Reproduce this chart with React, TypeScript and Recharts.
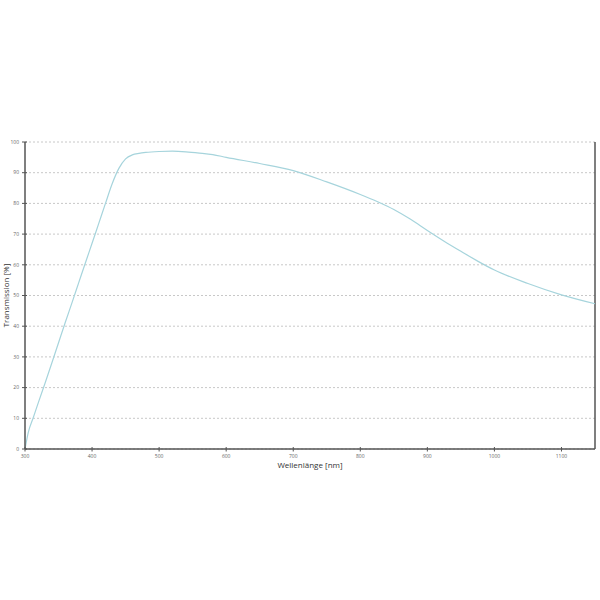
import React from "react";
import {
  CartesianGrid,
  Label,
  Line,
  LineChart,
  ReferenceLine,
  XAxis,
  YAxis,
} from "recharts";

// wavelength in nm, transmission in %
const WAVELENGTHS = [
  300, 305, 312, 320, 330, 340, 350, 360, 370, 380, 390, 400, 410, 420, 430,
  440, 450, 460, 470, 480, 500, 520, 540, 560, 580, 600, 650, 700, 750, 800,
  825, 850, 875, 900, 925, 950, 975, 1000, 1050, 1100, 1150,
];
const TRANSMISSION = [
  0, 5.5, 10, 15.2, 21.5, 28, 34.6, 41.2, 47.6, 54.1, 60.6, 67, 73.5, 80,
  86.4, 91.4, 94.5, 95.8, 96.3, 96.6, 96.9, 97.0, 96.8, 96.4, 95.9, 95.0, 93.0,
  90.7, 87.0, 82.9, 80.6, 78.0, 74.8, 71.2, 67.7, 64.4, 61.2, 58.3, 53.9, 50.2,
  47.3,
];
const X_TICKS = [300, 400, 500, 600, 700, 800, 900, 1000, 1100];
const Y_TICKS = [0, 10, 20, 30, 40, 50, 60, 70, 80, 90, 100];

const AXIS_COLOR = "#555";
const FONT = "'Open Sans', 'Noto Sans', sans-serif";

function XTick({ x, y, payload }: any) {
  return (
    <g>
      <line x1={x} x2={x} y1={y - 2} y2={y + 2.5} stroke={AXIS_COLOR} strokeWidth={1} />
      <text x={x} y={y + 9} textAnchor="middle" fontSize={5} fill="#666" fontFamily={FONT}>
        {payload.value}
      </text>
    </g>
  );
}

function YTick({ x, y, payload }: any) {
  return (
    <g>
      <line x1={x - 3} x2={x + 2} y1={y} y2={y} stroke={AXIS_COLOR} strokeWidth={1} />
      <text x={x - 6} y={y + 1.7} textAnchor="end" fontSize={5} fill="#666" fontFamily={FONT}>
        {payload.value}
      </text>
    </g>
  );
}

export default function App() {
  const rows = WAVELENGTHS.map((w, i) => ({ wl: w, t: TRANSMISSION[i] }));
  return (
    <div style={{ position: "absolute", left: 0, top: 0, width: 600, height: 600, background: "#fff" }}>
      <LineChart
        width={600}
        height={600}
        data={rows}
        margin={{ top: 142, right: 5, left: 0, bottom: 121 }}
      >
        <CartesianGrid
          vertical={false}
          stroke="#c8c8c8"
          strokeDasharray="2 2"
        />
        <XAxis
          dataKey="wl"
          type="number"
          domain={[300, 1150]}
          ticks={X_TICKS}
          interval={0}
          height={30}
          tickSize={0}
          tickMargin={0}
          axisLine={{ stroke: AXIS_COLOR, strokeWidth: 1.5 }}
          tickLine={false}
          tick={<XTick />}
        >
          <Label
            content={() => (
              <text
                x={310}
                y={468}
                textAnchor="middle"
                fontSize={8}
                fill="#333"
                fontFamily={FONT}
              >
                Wellenlänge [nm]
              </text>
            )}
          />
        </XAxis>
        <YAxis
          type="number"
          domain={[0, 100]}
          ticks={Y_TICKS}
          interval={0}
          width={25}
          tickSize={0}
          tickMargin={0}
          axisLine={{ stroke: AXIS_COLOR, strokeWidth: 1.5 }}
          tickLine={false}
          tick={<YTick />}
        >
          <Label
            content={() => (
              <text
                x={8.5}
                y={295.5}
                transform="rotate(-90 8.5 295.5)"
                textAnchor="middle"
                fontSize={8}
                fill="#333"
                fontFamily={FONT}
              >
                Transmission [%]
              </text>
            )}
          />
        </YAxis>
        <ReferenceLine x={1150} stroke={AXIS_COLOR} strokeWidth={1.5} />
        <Line
          type="monotone"
          dataKey="t"
          stroke="#a6d4dc"
          strokeWidth={1.2}
          dot={false}
          isAnimationActive={false}
        />
      </LineChart>
    </div>
  );
}
